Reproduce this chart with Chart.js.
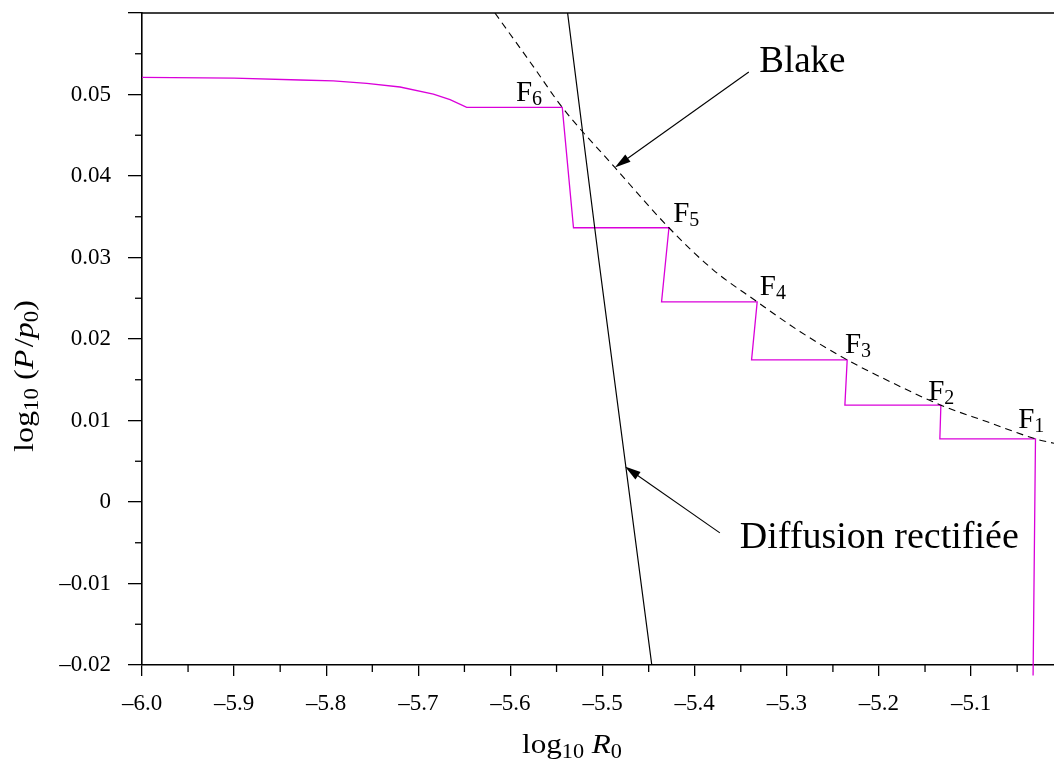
<!DOCTYPE html>
<html>
<head>
<meta charset="utf-8">
<script src="https://cdn.jsdelivr.net/npm/chart.js@4.4.1/dist/chart.umd.min.js"></script>
<style>
  html, body { margin: 0; padding: 0; background: #fff; }
</style>
</head>
<body>
<canvas id="myChart" width="1054" height="765"></canvas>
<script>
'use strict';

//Axis ranges and ticks
let xMin = -6.0;
let xMax = -5.01;
let yMin = -0.02;
let yMax = 0.06;
let xMajorTicks = [-6.0, -5.9, -5.8, -5.7, -5.6, -5.5, -5.4, -5.3, -5.2, -5.1];
let yMajorTicks = [-0.02, -0.01, 0, 0.01, 0.02, 0.03, 0.04, 0.05, 0.06];
let xMinorTicks = [-5.95, -5.85, -5.75, -5.65, -5.55, -5.45, -5.35, -5.25, -5.15, -5.05];
let yMinorTicks = [-0.015, -0.005, 0.005, 0.015, 0.025, 0.035, 0.045, 0.055];

//Staircase (magenta)
let stepX = [-6.0, -5.9, -5.8284, -5.7923, -5.756, -5.7199, -5.6837, -5.6656, -5.6475,
  -5.5438, -5.5316, -5.4280, -5.4360, -5.3322, -5.3383, -5.2345, -5.2370,
  -5.1328, -5.1339, -5.0301, -5.0327];
let stepY = [0.0521, 0.0520, 0.05178, 0.05166, 0.05136, 0.05092, 0.05006, 0.04936, 0.04842,
  0.04842, 0.03365, 0.03365, 0.02456, 0.02456, 0.01744, 0.01744, 0.01188,
  0.01188, 0.00775, 0.00775, -0.0213];

//Blake threshold (dashed)
let blakeX = [-5.6169, -5.5753, -5.5438, -5.4867, -5.4280, -5.3800, -5.3322, -5.2859,
  -5.2345, -5.1846, -5.1328, -5.0833, -5.0301, -5.0100];
let blakeY = [0.06, 0.05345, 0.04842, 0.04105, 0.03365, 0.02849, 0.02456, 0.02092,
  0.01744, 0.01458, 0.01188, 0.00987, 0.00775, 0.0072];

//Rectified diffusion (solid black)
let diffX = [-5.538, -5.5045, -5.4466];
let diffY = [0.06, 0.03, -0.02];

//Step labels F6..F1 (left edge, baseline)
let stepNames = ['6', '5', '4', '3', '2', '1'];
let stepLabelX = [-5.5941, -5.4234, -5.3293, -5.2370, -5.1466, -5.0489];
let stepLabelY = [0.04923, 0.0343, 0.02534, 0.01827, 0.01253, 0.00906];

//Annotations: text position and arrow (from, to)
let blakeText = 'Blake';
let blakeTextPos = [-5.3300, 0.05276];
let blakeArrow = [-5.3413, 0.05276, -5.4867, 0.04105];
let diffText = 'Diffusion rectifiée';
let diffTextPos = [-5.3510, -0.00568];
let diffArrow = [-5.3727, -0.00379, -5.4758, 0.00435];

let serif = '"Liberation Serif", "Times New Roman", serif';
let magenta = 'rgb(218, 0, 218)';

function points(xs, ys) {
  return xs.map((x, i) => ({x: x, y: ys[i]}));
}

function fmtNum(v, digits) {
  if (Math.abs(v) < 1e-9) return '0';
  let s = Math.abs(v).toFixed(digits);
  return v < 0 ? '\u2013' + s : s;
}

function drawRich(ctx, parts, x, y) {
  let cx = x;
  parts.forEach(p => {
    ctx.font = p.font;
    ctx.fillText(p.t, cx, y + (p.dy || 0));
    cx += ctx.measureText(p.t).width + (p.gap || 0);
  });
  return cx - x;
}

function richWidth(ctx, parts) {
  let w = 0;
  parts.forEach(p => {
    ctx.font = p.font;
    w += ctx.measureText(p.t).width + (p.gap || 0);
  });
  return w;
}

//draw a title centred on (cx, cy baseline), stretched to the wanted width
function drawTitle(ctx, parts, cx, cy, width, angle) {
  let w = richWidth(ctx, parts);
  ctx.save();
  ctx.translate(cx, cy);
  ctx.rotate(angle);
  ctx.scale(width / w, 1);
  drawRich(ctx, parts, -w / 2, 0);
  ctx.restore();
}

function drawArrow(ctx, x0, y0, x1, y1) {
  let ang = Math.atan2(y1 - y0, x1 - x0);
  let len = 16;
  let half = 4.5;
  let c = Math.cos(ang);
  let s = Math.sin(ang);
  ctx.beginPath();
  ctx.moveTo(x0, y0);
  ctx.lineTo(x1 - c * len * 0.7, y1 - s * len * 0.7);
  ctx.stroke();
  ctx.beginPath();
  ctx.moveTo(x1, y1);
  ctx.lineTo(x1 - c * len + s * half, y1 - s * len - c * half);
  ctx.lineTo(x1 - c * len - s * half, y1 - s * len + c * half);
  ctx.closePath();
  ctx.fill();
}

let decorations = {
  id: 'decorations',
  afterDatasetsDraw(chart) {
    let ctx = chart.ctx;
    let xs = chart.scales.x;
    let ys = chart.scales.y;
    let area = chart.chartArea;
    ctx.save();
    ctx.strokeStyle = '#000';
    ctx.fillStyle = '#000';

    //top frame line
    ctx.lineWidth = 1.6;
    ctx.beginPath();
    ctx.moveTo(area.left, area.top);
    ctx.lineTo(area.right, area.top);
    ctx.stroke();

    //minor ticks
    ctx.lineWidth = 1.3;
    xMinorTicks.forEach(v => {
      let px = xs.getPixelForValue(v);
      ctx.beginPath();
      ctx.moveTo(px, area.bottom);
      ctx.lineTo(px, area.bottom + 7);
      ctx.stroke();
    });
    yMinorTicks.forEach(v => {
      let py = ys.getPixelForValue(v);
      ctx.beginPath();
      ctx.moveTo(area.left, py);
      ctx.lineTo(area.left - 7, py);
      ctx.stroke();
    });

    //arrows
    ctx.lineWidth = 1.1;
    [blakeArrow, diffArrow].forEach(a => {
      drawArrow(ctx, xs.getPixelForValue(a[0]), ys.getPixelForValue(a[1]),
        xs.getPixelForValue(a[2]), ys.getPixelForValue(a[3]));
    });

    //annotation texts
    ctx.textBaseline = 'alphabetic';
    ctx.textAlign = 'left';
    ctx.font = '37px ' + serif;
    ctx.fillText(blakeText, xs.getPixelForValue(blakeTextPos[0]), ys.getPixelForValue(blakeTextPos[1]));
    ctx.font = '38px ' + serif;
    ctx.fillText(diffText, xs.getPixelForValue(diffTextPos[0]), ys.getPixelForValue(diffTextPos[1]));

    //step labels
    stepNames.forEach((n, i) => {
      drawRich(ctx, [
        {t: 'F', font: '29px ' + serif},
        {t: n, font: '20px ' + serif, dy: 4}
      ], xs.getPixelForValue(stepLabelX[i]), ys.getPixelForValue(stepLabelY[i]));
    });

    //x axis title
    drawTitle(ctx, [
      {t: 'log', font: '28px ' + serif},
      {t: '10', font: '20px ' + serif, dy: 5, gap: 7},
      {t: 'R', font: 'italic 28px ' + serif},
      {t: '0', font: '20px ' + serif, dy: 5}
    ], 572, 753, 100, 0);

    //y axis title
    drawTitle(ctx, [
      {t: 'log', font: '28px ' + serif},
      {t: '10', font: '20px ' + serif, dy: 5, gap: 7},
      {t: '(', font: '28px ' + serif},
      {t: 'P', font: 'italic 28px ' + serif, gap: 2},
      {t: '/', font: '28px ' + serif},
      {t: 'p', font: 'italic 28px ' + serif},
      {t: '0', font: '20px ' + serif, dy: 5},
      {t: ')', font: '28px ' + serif}
    ], 33, 376, 152, -Math.PI / 2);
    ctx.restore();
  }
};

let ctx = document.getElementById('myChart').getContext('2d');
new Chart(ctx, {
  type: 'scatter',
  data: {
    datasets: [
      {
        label: 'Diffusion rectifiée',
        data: points(diffX, diffY),
        showLine: true,
        borderColor: '#000',
        borderWidth: 1.2,
        pointRadius: 0,
        tension: 0
      },
      {
        label: 'Blake',
        data: points(blakeX, blakeY),
        showLine: true,
        borderColor: '#000',
        borderWidth: 1.1,
        borderDash: [7, 5],
        pointRadius: 0,
        cubicInterpolationMode: 'monotone'
      },
      {
        label: 'F',
        data: points(stepX, stepY),
        showLine: true,
        borderColor: magenta,
        borderWidth: 1.3,
        pointRadius: 0,
        tension: 0,
        clip: {left: 0, top: 0, right: 0, bottom: 12}
      }
    ]
  },
  options: {
    responsive: false,
    animation: false,
    devicePixelRatio: 1,
    layout: {padding: {top: 13, right: 0, bottom: 0, left: 0}},
    plugins: {
      legend: {display: false},
      tooltip: {enabled: false}
    },
    scales: {
      x: {
        type: 'linear',
        min: xMin,
        max: xMax,
        afterBuildTicks: scale => { scale.ticks = xMajorTicks.map(v => ({value: v})); },
        afterFit: scale => {
          scale.height = 100;
          scale.paddingLeft = 0;
          scale.paddingRight = 0;
        },
        grid: {drawOnChartArea: false, color: '#000', lineWidth: 1.3, tickLength: 11},
        border: {display: true, color: '#000', width: 1.6},
        ticks: {
          autoSkip: false,
          maxRotation: 0,
          padding: 14,
          color: '#000',
          font: {family: serif, size: 23},
          callback: v => fmtNum(v, 1)
        }
      },
      y: {
        type: 'linear',
        min: yMin,
        max: yMax,
        afterBuildTicks: scale => { scale.ticks = yMajorTicks.map(v => ({value: v})); },
        afterFit: scale => {
          scale.width = 142;
          scale.paddingTop = 0;
          scale.paddingBottom = 0;
        },
        grid: {drawOnChartArea: false, color: '#000', lineWidth: 1.3, tickLength: 14},
        border: {display: true, color: '#000', width: 1.6},
        ticks: {
          padding: 17,
          color: '#000',
          font: {family: serif, size: 23},
          callback: v => (Math.abs(v - 0.06) < 1e-9 ? '' : fmtNum(v, 2))
        }
      }
    }
  },
  plugins: [decorations]
});
</script>
</body>
</html>
